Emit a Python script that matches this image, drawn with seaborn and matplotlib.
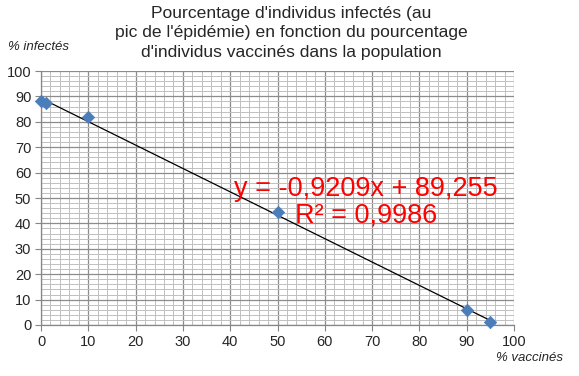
import numpy as np
import pandas as pd
import matplotlib
matplotlib.use("Agg")
import matplotlib.pyplot as plt
import seaborn as sns
from matplotlib.ticker import MultipleLocator

# data
vaccines = [0, 1, 10, 50, 90, 95]
infected = [88, 87.5, 82, 44.5, 6, 1]
slope = -0.9209
intercept = 89.255

df = pd.DataFrame({"vaccines": vaccines, "infected": infected})

sns.set_style("white")
plt.rcParams['font.family'] = ['Liberation Sans', 'DejaVu Sans']

fig = plt.figure(figsize=(5.79, 3.76), dpi=100)
ax = fig.add_axes([41 / 579, 1 - 325 / 376, (514 - 41) / 579, (325 - 71) / 376])

# grid
ax.set_xlim(0, 100)
ax.set_ylim(0, 100)
ax.xaxis.set_major_locator(MultipleLocator(10))
ax.yaxis.set_major_locator(MultipleLocator(10))
ax.xaxis.set_minor_locator(MultipleLocator(2))
ax.yaxis.set_minor_locator(MultipleLocator(2))
ax.grid(which="major", color="#8c8c8c", linewidth=0.9)
ax.grid(which="minor", color="#c0c0c0", linewidth=0.7)
ax.set_axisbelow(True)

# trend line
xs = np.array([min(vaccines), max(vaccines)])
ax.plot(xs, slope * xs + intercept, color="black", linewidth=0.9, zorder=3)

sns.scatterplot(data=df, x="vaccines", y="infected", marker="D", s=40,
                color="#4a7ebb", edgecolor="#4a7ebb", ax=ax, zorder=4, clip_on=False)

for s in ["top", "right"]:
    ax.spines[s].set_visible(False)
for s in ["left", "bottom"]:
    ax.spines[s].set_color("#868686")
    ax.spines[s].set_linewidth(0.9)

ax.tick_params(which="major", direction="out", length=4, color="#868686",
               labelsize=10.5, pad=3, bottom=True, left=True)
ax.tick_params(which="minor", length=0)
ax.set_xlabel("")
ax.set_ylabel("")

fig.text(8 / 579, 1 - 47 / 376, "% infectés", fontsize=9.5, style="italic", va="center")
fig.text(530 / 579, 1 - 358 / 376, "% vaccinés", fontsize=9.5, style="italic", va="center", ha="center")

fig.text(291 / 579, 1 - 33 / 376,
         "Pourcentage d'individus infectés (au\npic de l'épidémie) en fonction du pourcentage\nd'individus vaccinés dans la population",
         fontsize=12.6, ha="center", va="center", linespacing=1.38)

fig.text(366 / 579, 1 - 202 / 376, "y = -0,9209x + 89,255\nR² = 0,9986",
         color="#ff0000", fontsize=19.5, ha="center", va="center", linespacing=1.0)

fig.savefig("out.png", dpi=100)
